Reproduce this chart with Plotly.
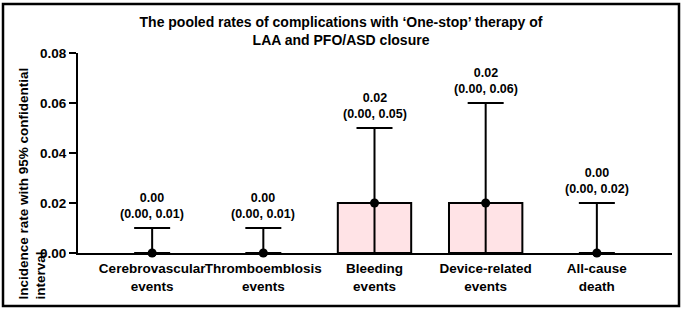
import plotly.graph_objects as go

categories = ["Cerebrovascular<br>events", "Thromboemblosis<br>events", "Bleeding<br>events",
              "Device-related<br>events", "All-cause<br>death"]
rates = [0.00, 0.00, 0.02, 0.02, 0.00]
lower = [0.00, 0.00, 0.00, 0.00, 0.00]
upper = [0.01, 0.01, 0.05, 0.06, 0.02]
y_ticks = [0.00, 0.02, 0.04, 0.06, 0.08]

FONT = "Liberation Sans, Arial, sans-serif"
W, H = 682, 312
L, R, T, B = 78, 10, 53, 59
pw = W - L - R
ph = H - T - B

fig = go.Figure()
fig.add_trace(go.Bar(
    x=categories, y=rates, width=0.66,
    marker=dict(color="#FFE3E6",
                line=dict(color="black", width=[2 if r > 0 else 0 for r in rates])),
    hoverinfo="skip", showlegend=False,
))
fig.add_trace(go.Scatter(
    x=categories, y=rates, mode="markers",
    marker=dict(color="black", size=9),
    error_y=dict(type="data", symmetric=False,
                 array=[u - r for u, r in zip(upper, rates)],
                 arrayminus=[r - l for r, l in zip(rates, lower)],
                 color="black", thickness=2, width=18),
    showlegend=False, cliponaxis=False,
))

for c, r, lo, up in zip(categories, rates, lower, upper):
    fig.add_annotation(
        x=c, y=up, xref="x", yref="y",
        text=f"<b>{r:.2f}<br>({lo:.2f}, {up:.2f})</b>",
        showarrow=False, yanchor="bottom", yshift=5,
        font=dict(family=FONT, size=12.5, color="black"),
    )

# y-axis title (left aligned, two lines)
fig.add_annotation(
    x=(13 - L) / pw, y=(T + ph - 302) / ph, xref="paper", yref="paper",
    xanchor="left", yanchor="bottom", textangle=-90, align="left",
    text="<b>Incidence rate with 95% confidential<br>interval</b>",
    showarrow=False, font=dict(family=FONT, size=13.5, color="black"),
)

# outer border
fig.add_shape(type="rect", xref="paper", yref="paper",
              x0=(3 - L) / pw, x1=(679 - L) / pw,
              y0=(T + ph - 306) / ph, y1=(T + ph - 4) / ph,
              line=dict(color="black", width=2.5))

fig.update_layout(
    width=W, height=H,
    margin=dict(l=L, r=R, t=T, b=B, autoexpand=False),
    paper_bgcolor="white", plot_bgcolor="white",
    title=dict(text="<b>The pooled rates of complications with ‘One-stop’ therapy of<br>LAA and PFO/ASD closure</b>",
               x=0.5, xanchor="center", y=0.915, yanchor="top",
               font=dict(family=FONT, size=14, color="black")),
    font=dict(family=FONT, color="black"),
    xaxis=dict(range=[-0.667, 4.676], showline=True, linecolor="black", linewidth=2,
               ticks="", showgrid=False, zeroline=False, tickangle=0, automargin=False,
               tickvals=categories, ticktext=[f"<b>{c}</b>" for c in categories],
               ticklabelstandoff=2,
               tickfont=dict(family=FONT, size=13.5, color="black")),
    yaxis=dict(range=[0, 0.08], tickvals=y_ticks, ticktext=[f"<b>{v:.2f}</b>" for v in y_ticks],
               showline=True, linecolor="black", linewidth=2, automargin=False,
               ticks="outside", ticklen=7, tickwidth=2, tickcolor="black",
               showgrid=False, zeroline=False,
               tickfont=dict(family=FONT, size=13.5, color="black")),
)

fig.write_html("out.html", config={"displayModeBar": False},
               post_script="document.body.style.margin='0';document.body.style.overflow='hidden';"
                           "document.documentElement.style.overflow='hidden';")
